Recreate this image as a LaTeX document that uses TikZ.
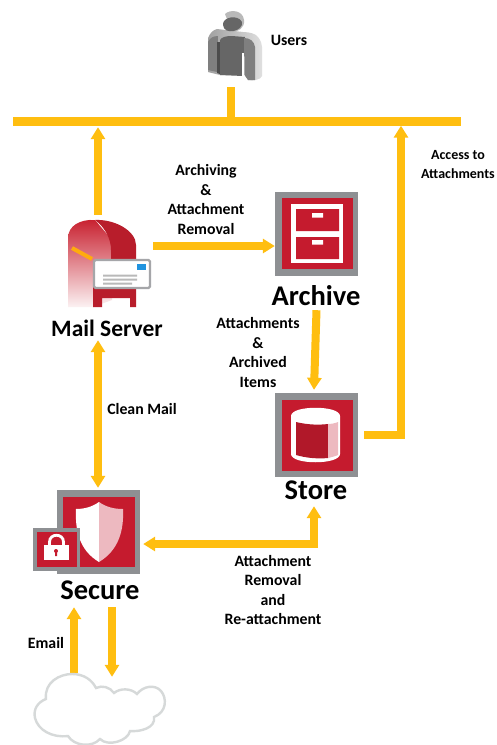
\documentclass[tikz,border=0pt]{standalone}
\usepackage{fontspec}
\setmainfont{Carlito}
\usetikzlibrary{arrows.meta,shadings}
\definecolor{flowc}{HTML}{FFBE10}
\definecolor{boxgray}{HTML}{8E9093}
\definecolor{boxred}{HTML}{C51B2E}
\definecolor{pinkc}{HTML}{EDB9C0}
\definecolor{cloudc}{HTML}{D6D9D9}
\definecolor{mailred}{HTML}{C8202F}
\definecolor{userdark}{HTML}{666666}
\definecolor{usermid}{HTML}{7F7F7F}
\definecolor{userlight}{HTML}{A0A0A0}
\tikzset{
  flow/.style={draw=flowc,line width=8pt,-{Triangle[width=14pt,length=12pt]}},
  flowboth/.style={draw=flowc,line width=8pt,{Triangle[width=14pt,length=12pt]}-{Triangle[width=14pt,length=12pt]},line join=miter},
  flowplain/.style={draw=flowc,line width=8.5pt},
  iconbox/.style={fill=boxgray,inner sep=0pt,minimum width=83pt,minimum height=84pt},
  holder/.style={inner sep=0pt},
  lbl/.style={font=\fontsize{15.8}{19.5}\selectfont\bfseries,align=center,inner sep=0pt,text=black},
  ttl/.style={font=\fontsize{28.5}{30}\selectfont\bfseries,inner sep=0pt,text=black},
}
\begin{document}
\begin{tikzpicture}[x=1pt,y=-1pt]
\useasboundingbox (0,0) rectangle (496,745);
\clip (0,0) rectangle (496,745);
\fill[white] (0,0) rectangle (496,745);

% ---- connector carriers
\node[fill=flowc,inner sep=0pt,minimum width=448pt,minimum height=9pt] (bus) at (237,121) {};
\node[holder,minimum width=54pt,minimum height=51pt] (users) at (235,30) {};
\node[holder,minimum width=83pt,minimum height=88pt] (mail) at (109.5,263) {};
\node[iconbox] (archive) at (316.5,234) {};
\node[iconbox] (store) at (316.5,435) {};
\node[iconbox] (secure) at (98.5,531.5) {};
\node[holder,minimum width=110pt,minimum height=50pt] (cloud) at (100,710) {};

% ---- connectors
\draw[flowplain] ([xshift=-4pt,yshift=-31.5pt]users.south) -- ([xshift=-6pt]bus.south);
\draw[flow] ([xshift=-11.5pt,yshift=4pt]mail.north) -- ([xshift=-139pt,yshift=-1.5pt]bus.south);
\draw[flow] ([xshift=2pt,yshift=17pt]mail.east) -- ([yshift=-12pt]archive.west);
\draw[flow] ([yshift=-34pt]archive.south) -- ([xshift=-2.5pt,yshift=3pt]store.north);
\draw[draw=flowc,line width=8.5pt,-{Triangle[width=14pt,length=12pt]},line join=miter]
  ([xshift=6pt]store.east) -| ([xshift=164pt]bus.south);
\draw[flowboth] ([xshift=-11.5pt,yshift=-33pt]mail.south) -- ([xshift=-0.5pt,yshift=1.5pt]secure.north);
\draw[flowboth] ([xshift=-2.5pt,yshift=-29pt]store.south) |- ([xshift=3pt,yshift=-12.5pt]secure.east);
\draw[flow] ([xshift=-26pt,yshift=12pt]cloud.north) -- ([xshift=-24.5pt,yshift=-33.5pt]secure.south);
\draw[flow] ([xshift=13.5pt,yshift=-33.5pt]secure.south) -- ([xshift=12pt,yshift=8pt]cloud.north);

% ---- users icon
\shade[left color=userlight,right color=gray!25]
  (208,38) .. controls (210,33) and (213,30) .. (217,29) -- (243,32) .. controls (250,32) and (256,34) .. (258,37)
  .. controls (261,41) and (262,44) .. (262,47) -- (262,76) .. controls (261,80) and (252,81) .. (248,80)
  -- (245,75) -- (220,75) -- (208,72) -- cycle;
\fill[usermid] (208,42) .. controls (210,38) and (213,36) .. (218,36) -- (217,72) -- (208,70) -- cycle;
\fill[black!70] (217,42) -- (220,42) -- (220,74) -- (217,73) -- cycle;
\fill[userdark] (220,40) .. controls (222,37) and (226,36) .. (232,36) -- (245,37) -- (243,76) -- (220,75) -- cycle;
\fill[white] (242,53) rectangle (244.5,78);
\fill[usermid] (244,38) .. controls (250,38) and (254,41) .. (255,47) -- (255,80) -- (248,80) -- (244.5,75) -- cycle;
\fill[gray!55] (225,14) .. controls (230,9) and (243,10) .. (244,20) .. controls (245,28) and (238,32) .. (232,32) -- cycle;
\fill[userdark] (223,25) .. controls (222,17) and (238,14) .. (242,22) .. controls (244,31) and (224,36) .. (223,25) -- cycle;

% ---- mailbox icon
\shade[top color=mailred,middle color=mailred!90,bottom color=mailred!6] (68,307) -- (68,238) .. controls (68,226) and (80,219) .. (95,220) -- (112,240) -- (112,300) -- (93,307) -- cycle;
\fill[mailred!92!black] (95,220) .. controls (115,219) and (136,231) .. (136,245) -- (136,307) -- (130,307) -- (130,298) -- (102,298) -- (102,307) -- (93,307) -- (93,285) -- (111,285) -- (111,250) .. controls (111,240) and (106,228) .. (95,220) -- cycle;
\draw[flowc!90!red,line width=4pt] (72,248) -- (92,259);
\filldraw[fill=white,draw=boxgray!80,line width=2.2pt,rounded corners=1.5pt] (94,260) rectangle (150,288);
\fill[blue!40!cyan!75!gray] (137,264) rectangle (146,270);
\fill[gray!55] (103,274.5) rectangle (137,276.5) (103,278.5) rectangle (137,280.5) (103,282.5) rectangle (132,284.5);

% ---- archive icon
\fill[boxred] (282,198) rectangle (353,269);
\fill[white] (291,204) rectangle (343,263);
\fill[boxred] (296,209) rectangle (339,231) (296,237) rectangle (339,259);
\fill[white] (312,213) rectangle (323,217.5) (312,240) rectangle (323,244.5);

% ---- store icon
\fill[boxred] (282,400) rectangle (353,471);
\fill[white] (291,416) .. controls (291,405) and (340,405) .. (340,416) -- (340,454) .. controls (340,465) and (291,465) .. (291,454) -- cycle;
\fill[boxred!90!black] (296,422) .. controls (308,425) and (320,425) .. (328,424) -- (328,458) .. controls (318,459) and (306,458) .. (296,455) -- cycle;
\fill[pinkc] (328,424) .. controls (332,424) and (336,423) .. (338,422) -- (338,455) .. controls (336,456) and (332,457) .. (328,458) -- cycle;

% ---- secure icon
\fill[boxred] (63,497) rectangle (135,567);
\fill[white] (99,502) .. controls (92,507) and (84,509) .. (76,509) .. controls (75,530) and (79,550) .. (99,562) -- cycle;
\fill[pinkc] (99,502) .. controls (106,507) and (114,509) .. (123,509) .. controls (124,530) and (119,550) .. (99,562) -- cycle;
\fill[boxgray] (33,528) rectangle (80,571);
\fill[boxred] (37,532) rectangle (77,567);
\fill[white] (44,545) rectangle (69,560);
\draw[white,line width=2.8pt] (49.5,546) -- (49.5,542) .. controls (49.5,533) and (63.5,533) .. (63.5,542) -- (63.5,546);
\fill[boxred] (56,551) circle (2pt) (55,551) rectangle (57,556);

% ---- cloud
\filldraw[fill=white,draw=cloudc,line width=2.4pt]
  (46,699) .. controls (44,682) and (60,674) .. (72,674)
  .. controls (84,674) and (92,680) .. (96,688)
  .. controls (102,685) and (110,687) .. (114,693)
  .. controls (120,688) and (131,688) .. (137,694)
  .. controls (143,686) and (155,684) .. (161,691)
  .. controls (167,698) and (167,712) .. (154,717)
  .. controls (156,728) and (140,732) .. (130,731)
  .. controls (128,741) and (108,747) .. (100,739)
  .. controls (92,748) and (74,746) .. (68,736)
  .. controls (52,738) and (38,730) .. (35,718)
  .. controls (33,709) and (38,702) .. (46,699) -- cycle;

% ---- labels
\node[lbl] (t1) at (289,40) {Users};
\node[lbl] (t2) at (206,199.5) {Archiving\\\&\\Attachment\\Removal};
\node[lbl,font=\fontsize{14}{19.5}\selectfont\bfseries] (t3) at (458,164.5) {Access to\\Attachments};
\node[lbl] (t4) at (258,352.5) {Attachments\\\&\\Archived\\Items};
\node[lbl] (t5) at (142,409) {Clean Mail};
\node[lbl] (t6) at (273,590) {Attachment\\Removal\\and\\Re-attachment};
\node[lbl] (t7) at (46,643) {Email};
\node[ttl,font=\fontsize{23.5}{26}\selectfont\bfseries] (t8) at (107,328) {Mail Server};
\node[ttl] (t9) at (316,296) {Archive};
\node[ttl] (t10) at (316,490) {Store};
\node[ttl] (t11) at (100,590) {Secure};
\end{tikzpicture}
\end{document}
